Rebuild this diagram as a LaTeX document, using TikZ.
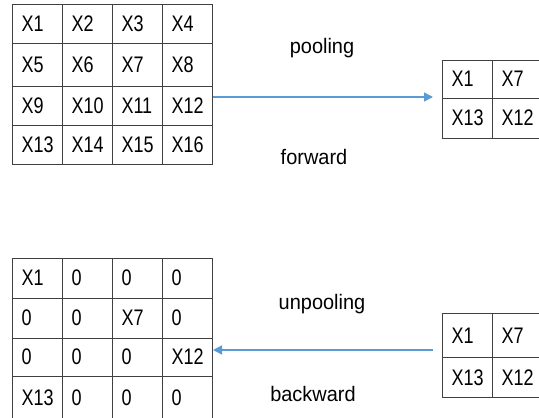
\documentclass[tikz,border=0pt]{standalone}
\usepackage{fontspec}
\setmainfont{Liberation Sans}[FakeStretch=0.8]
\newfontfamily\labelfont{Liberation Sans}[FakeStretch=0.95]
\usetikzlibrary{arrows.meta}
\definecolor{flowblue}{RGB}{91,155,213}
\definecolor{gridgray}{RGB}{64,64,64}
\tikzset{
  cell/.style={draw=gridgray, line width=1pt, rectangle, text width=32pt, align=left,
    inner xsep=9pt, inner ysep=0pt, minimum height=40pt, font=\fontsize{22.5}{24}\selectfont},
  flow/.style={draw=flowblue, line width=1.5pt, -{Triangle[length=9pt,width=9pt]}},
  steplabel/.style={font=\labelfont\fontsize{21}{24}\selectfont}
}
\begin{document}
\begin{tikzpicture}[x=1pt, y=-1pt]
\useasboundingbox (0,0) rectangle (539,418);
% forward input
\foreach \r/\top/\h/\row in {1/4/39/{X1,X2,X3,X4}, 2/43/43/{X5,X6,X7,X8},
    3/86/39/{X9,X10,X11,X12}, 4/125/39/{X13,X14,X15,X16}} {
  \foreach \txt [count=\c] in \row {
    \node[cell, minimum height=\h pt] (in\r\c) at (-12.5+50*\c, \top+\h/2) {\txt};
  }
}
% pooled output
\node[cell, minimum height=38pt] (pa11) at (467.5,79) {X1};
\node[cell, minimum height=38pt] (pa12) at (517.5,79) {X7};
\node[cell] (pa21) at (467.5,118) {X13};
\node[cell] (pa22) at (517.5,118) {X12};
% backward input
\node[cell, minimum height=44pt] (pb11) at (467.5,335.5) {X1};
\node[cell, minimum height=44pt] (pb12) at (517.5,335.5) {X7};
\node[cell] (pb21) at (467.5,377.5) {X13};
\node[cell] (pb22) at (517.5,377.5) {X12};
% unpooled output
\foreach \r/\top/\h/\row in {1/258/40/{X1,0,0,0}, 2/298/40/{0,0,X7,0},
    3/338/38/{0,0,0,X12}, 4/376/44/{X13,0,0,0}} {
  \foreach \txt [count=\c] in \row {
    \node[cell, minimum height=\h pt] (out\r\c) at (-12.5+50*\c, \top+\h/2) {\txt};
  }
}
% arrows
\coordinate (fwdend) at (433,97);
\coordinate (bwdstart) at (433,350);
\draw[flow] (in34.east |- fwdend) -- (fwdend);
\draw[flow] (bwdstart) -- (out34.east |- bwdstart);
% labels
\node[steplabel] (pool) at (322,48) {pooling};
\node[steplabel] (fwd) at (314,157) {forward};
\node[steplabel] (unpool) at (322,304) {unpooling};
\node[steplabel] (bwd) at (313,394) {backward};
\end{tikzpicture}
\end{document}
